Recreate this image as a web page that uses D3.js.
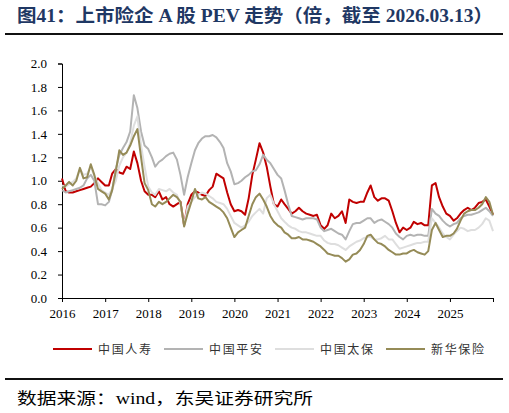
<!DOCTYPE html>
<html>
<head>
<meta charset="utf-8">
<script src="https://cdn.jsdelivr.net/npm/d3@7"></script>
<style>
  body { margin: 0; background: #fff; }
  svg { display: block; }
</style>
</head>
<body>
<svg id="chart" width="509" height="413"></svg>
<script>
// the data (monthly readings, Jan 2016 .. Jan 2026)
const startMonth = new Date(2016, 0, 1);
const months = d3.timeMonth.range(startMonth, new Date(2026, 0, 2));

const seriesNames = ["中国人寿", "中国平安", "中国太保", "新华保险"];

const lifeValues = [
  1.02,0.91,0.90,0.90,0.91,0.92,0.93,0.94,0.95,0.98,1.02,0.99,
  0.96,0.96,1.06,1.10,1.07,1.06,1.12,1.10,1.25,1.15,1.00,0.91,
  0.88,0.88,0.86,0.91,0.84,0.86,0.80,0.78,0.80,0.82,0.62,0.80,
  0.88,0.91,0.90,0.88,0.87,0.92,0.95,1.06,1.04,1.02,0.90,0.80,
  0.74,0.75,0.74,0.71,0.85,1.05,1.18,1.32,1.24,1.12,0.95,0.80,
  0.78,0.84,0.80,0.76,0.72,0.74,0.77,0.74,0.72,0.71,0.70,0.71,
  0.62,0.59,0.62,0.72,0.68,0.70,0.74,0.64,0.84,0.82,0.81,0.82,
  0.82,0.90,0.96,0.86,0.83,0.85,0.85,0.83,0.74,0.64,0.56,0.60,
  0.58,0.60,0.65,0.63,0.64,0.62,0.62,0.96,0.98,0.86,0.78,0.72,
  0.70,0.66,0.68,0.72,0.75,0.77,0.75,0.77,0.81,0.82,0.84,0.78,
  0.71
];

const pinganValues = [
  0.92,0.90,0.91,0.92,0.93,0.94,0.96,1.02,1.05,1.00,0.80,0.80,
  0.79,0.82,0.92,1.10,1.22,1.28,1.33,1.42,1.73,1.62,1.42,1.30,
  1.27,1.20,1.12,1.16,1.18,1.21,1.23,1.24,1.18,1.05,0.88,1.03,
  1.15,1.26,1.32,1.36,1.38,1.38,1.39,1.37,1.33,1.28,1.15,1.08,
  0.97,0.98,1.00,1.03,1.05,1.08,1.09,1.14,1.22,1.18,1.15,1.10,
  1.05,1.02,0.92,0.80,0.70,0.69,0.68,0.67,0.68,0.68,0.68,0.67,
  0.60,0.57,0.58,0.59,0.57,0.55,0.54,0.50,0.57,0.63,0.64,0.64,
  0.66,0.68,0.68,0.64,0.66,0.67,0.65,0.63,0.60,0.55,0.52,0.50,
  0.53,0.54,0.53,0.54,0.54,0.53,0.53,0.76,0.72,0.70,0.66,0.63,
  0.61,0.63,0.64,0.68,0.70,0.71,0.71,0.72,0.73,0.75,0.77,0.74,
  0.70
];

const cpicValues = [
  0.96,0.95,0.97,0.99,1.02,1.10,1.05,1.06,1.12,1.04,0.98,0.92,
  0.90,0.88,0.93,1.00,1.13,1.20,1.24,1.32,1.47,1.55,1.30,1.12,
  0.95,0.90,0.88,0.93,0.92,0.91,0.93,0.90,0.88,0.80,0.62,0.78,
  0.82,0.86,0.88,0.90,0.89,0.87,0.85,0.82,0.81,0.80,0.76,0.70,
  0.64,0.62,0.60,0.62,0.65,0.70,0.73,0.76,0.72,0.85,0.88,0.80,
  0.74,0.68,0.65,0.62,0.60,0.59,0.57,0.56,0.56,0.55,0.54,0.53,
  0.53,0.49,0.47,0.46,0.46,0.45,0.43,0.41,0.44,0.46,0.48,0.49,
  0.51,0.52,0.52,0.50,0.50,0.51,0.53,0.50,0.50,0.46,0.42,0.43,
  0.44,0.45,0.46,0.47,0.47,0.48,0.48,0.68,0.64,0.60,0.55,0.52,
  0.50,0.54,0.57,0.60,0.59,0.57,0.58,0.58,0.60,0.63,0.68,0.66,
  0.57
];

const nciValues = [
  0.93,0.96,0.99,0.96,1.00,1.11,1.02,1.03,1.14,1.05,0.93,0.91,
  0.89,0.84,0.92,1.08,1.26,1.22,1.24,1.30,1.38,1.44,1.20,0.98,
  0.92,0.80,0.78,0.82,0.80,0.82,0.85,0.88,0.86,0.82,0.61,0.72,
  0.82,0.93,0.85,0.84,0.86,0.82,0.80,0.78,0.76,0.73,0.68,0.60,
  0.52,0.56,0.58,0.60,0.70,0.80,0.86,0.89,0.84,0.78,0.70,0.65,
  0.62,0.60,0.56,0.54,0.51,0.51,0.52,0.50,0.50,0.49,0.48,0.46,
  0.44,0.41,0.38,0.37,0.36,0.36,0.34,0.31,0.33,0.37,0.38,0.41,
  0.46,0.53,0.54,0.50,0.47,0.46,0.44,0.41,0.39,0.37,0.37,0.38,
  0.38,0.40,0.41,0.39,0.38,0.37,0.40,0.58,0.64,0.58,0.52,0.53,
  0.53,0.55,0.59,0.66,0.72,0.74,0.75,0.75,0.77,0.80,0.86,0.82,
  0.71
];

const yTicks = [0, 0.2, 0.4, 0.6, 0.8, 1.0, 1.2, 1.4, 1.6, 1.8, 2.0];
const yearLabels = ["2016","2017","2018","2019","2020","2021","2022","2023","2024","2025",""];

const titleText = "图41：上市险企 A 股 PEV 走势（倍，截至 2026.03.13）";
const sourceText = "数据来源：wind，东吴证券研究所";

// colours
const colors = ["#C00000", "#B3B3B3", "#DEDEDE", "#958B57"];
const allValues = [lifeValues, pinganValues, cpicValues, nciValues];

// The svg
let svg = d3.select("#chart");
const serif = "'Liberation Serif', 'Times New Roman', 'Noto Sans CJK SC', serif";

svg.append("rect").attr("width", 509).attr("height", 413).attr("fill", "#fff");

// title + rules
svg.append("text")
    .attr("x", 17).attr("y", 22)
    .attr("font-family", serif)
    .attr("font-weight", "bold")
    .attr("font-size", 18)
    .attr("fill", "#1F3864")
    .attr("textLength", 476)
    .attr("lengthAdjust", "spacingAndGlyphs")
    .text(titleText);

svg.append("line").attr("x1", 5).attr("x2", 503).attr("y1", 34).attr("y2", 34)
    .attr("stroke", "#111").attr("stroke-width", 2);
svg.append("line").attr("x1", 5).attr("x2", 503).attr("y1", 379).attr("y2", 379)
    .attr("stroke", "#111").attr("stroke-width", 2);

svg.append("text")
    .attr("x", 17).attr("y", 404)
    .attr("font-family", serif)
    .attr("font-size", 16)
    .attr("fill", "#000")
    .attr("textLength", 296)
    .attr("lengthAdjust", "spacingAndGlyphs")
    .text(sourceText);

// scales
let x = d3.scaleTime()
    .domain([startMonth, new Date(2026, 0, 1)])
    .range([62, 493]);

let y = d3.scaleLinear()
    .domain([0, 2])
    .range([298, 63.5]);

// axes
let yAxis = svg.append("g")
    .attr("transform", "translate(62,0)")
    .call(d3.axisLeft(y).tickValues(yTicks).tickFormat(d3.format(".1f"))
        .tickSize(4).tickSizeOuter(4).tickPadding(11));

let xAxis = svg.append("g")
    .attr("transform", "translate(0,298)")
    .call(d3.axisBottom(x).ticks(d3.timeYear.every(1))
        .tickFormat((d, i) => yearLabels[i] || "")
        .tickSize(4).tickSizeOuter(0).tickPadding(7));

[yAxis, xAxis].forEach(function (g) {
    g.selectAll("text")
        .attr("font-family", serif)
        .attr("font-size", 13)
        .attr("fill", "#000");
    g.selectAll("line, path").attr("stroke", "#000");
});

// lines
let line = d3.line()
    .x((d, i) => x(months[i]))
    .y(d => y(d));

svg.append("g")
    .selectAll("path")
    .data(allValues)
    .enter()
    .append("path")
    .attr("d", d => line(d))
    .attr("fill", "none")
    .attr("stroke", (d, i) => colors[i])
    .attr("stroke-width", 2)
    .attr("stroke-linejoin", "round");

// legend
const legendX = [53, 164, 275, 386];
let legend = svg.append("g")
    .selectAll("g")
    .data(seriesNames)
    .enter()
    .append("g")
    .attr("transform", (d, i) => "translate(" + legendX[i] + ",349)");

legend.append("line")
    .attr("x1", 0).attr("x2", 39)
    .attr("stroke", (d, i) => colors[i])
    .attr("stroke-width", 2);

legend.append("text")
    .attr("x", 45).attr("y", 5)
    .attr("font-family", "'Noto Sans CJK SC', sans-serif")
    .attr("font-size", 12)
    .attr("fill", "#333")
    .attr("textLength", 53)
    .attr("lengthAdjust", "spacing")
    .text(d => d);
</script>
</body>
</html>
